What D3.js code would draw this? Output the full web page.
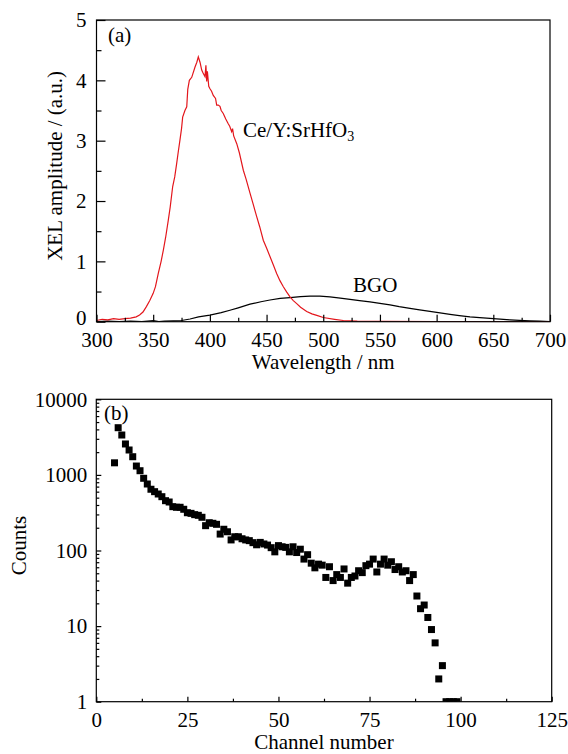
<!DOCTYPE html>
<html lang="en">
<head>
  <meta charset="UTF-8" />
  <title>XEL spectra and pulse height spectrum</title>
  <script src="https://d3js.org/d3.v7.min.js"></script>
  <style>
    body {
      margin: 0;
      background: #fff;
    }
    svg {
      display: block;
    }
  </style>
</head>
<body>
  <div id="chart"></div>

  <script>
    // (a) XEL spectra
    const ceWavelength = [300, 305, 310, 315, 320, 325, 330, 335, 338, 341, 344, 347, 350, 352, 354.5, 357, 359, 361, 363.3, 365,
      367.2, 369, 370.7, 372, 373.6, 375, 376, 378, 379.6, 380.5, 381.9, 384, 386.9, 388.5, 389.8, 391.3, 392.8, 394, 395.7, 396.5,
      397.2, 397.8, 399, 400.1, 401.5, 403, 405, 406, 407.4, 408.9, 410, 411.8, 413, 414, 416.2, 417.5, 419.2, 420, 421, 423.7,
      426, 429.5, 432, 435.4, 438, 441.3, 444, 447.1, 450, 453, 456, 458.9, 461.8, 464.8, 467.8, 470.7, 473.6, 476.6, 480, 485.4,
      490, 495, 500, 510, 517.7, 530, 550, 600, 650, 700];
    const ceAmplitude = [0.02, 0.04, 0.03, 0.05, 0.04, 0.05, 0.06, 0.08, 0.11, 0.16, 0.25, 0.35, 0.47, 0.58, 0.80, 1.00, 1.19, 1.40, 1.68, 1.90,
      2.24, 2.40, 2.62, 2.80, 3.01, 3.20, 3.39, 3.50, 3.56, 3.85, 4.00, 4.05, 4.22, 4.30, 4.39, 4.30, 4.17, 4.12, 4.06, 4.25,
      3.98, 4.15, 3.90, 3.86, 3.82, 3.75, 3.70, 3.59, 3.59, 3.57, 3.50, 3.45, 3.40, 3.36, 3.28, 3.24, 3.15, 3.20, 3.08, 2.95,
      2.80, 2.51, 2.36, 2.13, 1.96, 1.74, 1.57, 1.35, 1.22, 1.08, 0.94, 0.80, 0.68, 0.58, 0.49, 0.41, 0.35, 0.30, 0.24, 0.17,
      0.13, 0.10, 0.07, 0.04, 0.02, 0.01, 0.005, 0, 0, 0];

    const bgoWavelength = [300, 310, 320, 330, 340, 350, 355, 360, 367.7, 375, 382.5, 390, 400, 410, 417.7, 425, 435.4, 445, 453, 462,
      470.7, 480, 488.3, 497, 505.9, 515, 523.6, 532, 541.2, 550, 558.9, 567, 576.5, 585, 594.1, 603, 611.8, 620, 629.4, 638,
      647.1, 656, 664.7, 673, 682.4, 691, 700];
    const bgoAmplitude = [0, 0.01, 0, 0.01, 0, 0.02, 0, 0.01, 0.015, 0.02, 0.045, 0.08, 0.11, 0.15, 0.19, 0.23, 0.29, 0.33, 0.36, 0.385,
      0.40, 0.415, 0.425, 0.425, 0.41, 0.39, 0.37, 0.35, 0.33, 0.305, 0.28, 0.25, 0.22, 0.195, 0.17, 0.145, 0.12, 0.10, 0.08, 0.067,
      0.055, 0.042, 0.03, 0.022, 0.015, 0.008, 0];

    const xTicksA = [300, 350, 400, 450, 500, 550, 600, 650, 700];
    const yTicksA = [0, 1, 2, 3, 4, 5];

    // (b) pulse height spectrum, channels 5..99
    const channels = d3.range(5, 100);
    const counts = [1445, 4210, 3370, 2565, 2135, 1740, 1310, 1136, 902, 758,
      646, 600, 559, 515, 456, 438, 380, 373, 373, 351,
      316, 310, 298, 292, 275, 213, 233, 229, 222, 165,
      191, 177, 138, 152, 152, 143, 138, 135, 127, 119,
      128, 122, 118, 109, 96, 116, 112, 110, 96, 112,
      94, 104, 77, 88, 68, 59, 66, 64, 44, 61,
      40, 48, 44, 57, 37, 44, 46, 54, 51, 63,
      66, 77, 52, 66, 77, 64, 71, 56, 61, 52,
      54, 40, 48, 25, 17, 19, 13, 9, 6, 2,
      3, 1, 1, 1, 1];

    const xTicksB = [0, 25, 50, 75, 100, 125];
    const yTicksB = [1, 10, 100, 1000, 10000];

    const serif = "'Liberation Serif', 'Times New Roman', serif";
    const fontSize = 21;

    const width = 568, height = 754;
    const svg = d3.select("#chart").append("svg")
      .attr("width", width)
      .attr("height", height)
      .attr("font-family", serif);

    svg.append("rect").attr("width", width).attr("height", height).attr("fill", "#fff");
    const defs = svg.append("defs");

    // strip the domain and restyle the tick labels of a d3 axis
    function styleAxis(g) {
      g.select(".domain").remove();
      g.attr("font-family", serif).attr("font-size", fontSize);
      g.selectAll(".tick text").attr("fill", "#000");
      g.selectAll(".tick line").attr("stroke", "#000").attr("stroke-width", 1.2);
    }

    // ---------- panel (a) ----------
    const a = { left: 96.5, right: 550, top: 20, bottom: 321.7 };
    const xA = d3.scaleLinear().domain([300, 700]).range([a.left, a.right]);
    const yA = d3.scaleLinear().domain([0, 5]).range([a.bottom, a.top]);

    defs.append("clipPath").attr("id", "clipA")
      .append("rect").attr("x", a.left).attr("y", a.top)
      .attr("width", a.right - a.left).attr("height", a.bottom - a.top);

    const lineA = d3.line().x(d => xA(d[0])).y(d => yA(d[1]));

    svg.append("path")
      .datum(d3.zip(bgoWavelength, bgoAmplitude))
      .attr("clip-path", "url(#clipA)")
      .attr("fill", "none").attr("stroke", "#000").attr("stroke-width", 1.2)
      .attr("d", lineA);

    svg.append("path")
      .datum(d3.zip(ceWavelength, ceAmplitude))
      .attr("clip-path", "url(#clipA)")
      .attr("fill", "none").attr("stroke", "#e3161c").attr("stroke-width", 1.2)
      .attr("d", lineA);

    // minor ticks
    svg.append("g").attr("transform", `translate(0,${a.bottom})`)
      .call(d3.axisBottom(xA).tickValues(d3.range(325, 700, 50)).tickSize(-4).tickFormat(""))
      .call(styleAxis);
    svg.append("g").attr("transform", `translate(${a.left},0)`)
      .call(d3.axisLeft(yA).tickValues(d3.range(0.5, 5, 1)).tickSize(-5).tickFormat(""))
      .call(styleAxis);

    // major ticks
    svg.append("g").attr("transform", `translate(0,${a.bottom})`)
      .call(d3.axisBottom(xA).tickValues(xTicksA).tickSize(-7).tickPadding(10).tickFormat(d3.format("d")))
      .call(styleAxis);
    svg.append("g").attr("transform", `translate(${a.left},0)`)
      .call(d3.axisLeft(yA).tickValues(yTicksA).tickSize(-9).tickPadding(10).tickFormat(d3.format("d")))
      .call(styleAxis)
      .call(g => g.selectAll(".tick text").filter(d => d === 0).attr("y", -4));

    svg.append("rect")
      .attr("x", a.left).attr("y", a.top)
      .attr("width", a.right - a.left).attr("height", a.bottom - a.top)
      .attr("fill", "none").attr("stroke", "#000").attr("stroke-width", 1.2);

    svg.append("text").attr("x", (a.left + a.right) / 2).attr("y", 369)
      .attr("text-anchor", "middle").attr("font-size", fontSize).text("Wavelength / nm");
    svg.append("text")
      .attr("transform", `translate(62,${(a.top + a.bottom) / 2 - 5}) rotate(-90)`)
      .attr("text-anchor", "middle").attr("font-size", fontSize).text("XEL amplitude / (a.u.)");

    svg.append("text").attr("x", 108).attr("y", 42).attr("font-size", fontSize).text("(a)");

    const ceLabel = svg.append("text").attr("x", 243).attr("y", 137).attr("font-size", fontSize);
    ceLabel.append("tspan").text("Ce/Y:SrHfO");
    ceLabel.append("tspan").attr("font-size", 14).attr("dy", 4).text("3");

    svg.append("text").attr("x", 353).attr("y", 292).attr("font-size", fontSize).text("BGO");

    // ---------- panel (b) ----------
    const b = { left: 96.3, right: 551.7, top: 399.3, bottom: 701.7 };
    const xB = d3.scaleLinear().domain([0, 125]).range([b.left, b.right]);
    const yB = d3.scaleLog().domain([1, 10000]).range([b.bottom, b.top]);

    defs.append("clipPath").attr("id", "clipB")
      .append("rect").attr("x", b.left).attr("y", b.top)
      .attr("width", b.right - b.left).attr("height", b.bottom - b.top);

    const sq = 7;
    svg.append("g").attr("clip-path", "url(#clipB)")
      .selectAll("rect")
      .data(d3.zip(channels, counts))
      .join("rect")
      .attr("x", d => xB(d[0]) - sq / 2)
      .attr("y", d => yB(d[1]) - sq / 2)
      .attr("width", sq).attr("height", sq)
      .attr("fill", "#000");

    const minorLog = [];
    [1, 10, 100, 1000].forEach(dec => d3.range(2, 10).forEach(m => minorLog.push(dec * m)));

    svg.append("g").attr("transform", `translate(0,${b.bottom})`)
      .call(d3.axisBottom(xB).tickValues(d3.range(12.5, 125, 25)).tickSize(-3).tickFormat(""))
      .call(styleAxis);
    svg.append("g").attr("transform", `translate(${b.left},0)`)
      .call(d3.axisLeft(yB).tickValues(minorLog).tickSize(-3).tickFormat(""))
      .call(styleAxis);

    svg.append("g").attr("transform", `translate(0,${b.bottom})`)
      .call(d3.axisBottom(xB).tickValues(xTicksB).tickSize(-5).tickPadding(10).tickFormat(d3.format("d")))
      .call(styleAxis);
    svg.append("g").attr("transform", `translate(${b.left},0)`)
      .call(d3.axisLeft(yB).tickValues(yTicksB).tickSize(-5).tickPadding(9).tickFormat(d3.format("d")))
      .call(styleAxis);

    svg.append("rect")
      .attr("x", b.left).attr("y", b.top)
      .attr("width", b.right - b.left).attr("height", b.bottom - b.top)
      .attr("fill", "none").attr("stroke", "#000").attr("stroke-width", 1.2);

    svg.append("text").attr("x", (b.left + b.right) / 2).attr("y", 749)
      .attr("text-anchor", "middle").attr("font-size", fontSize).text("Channel number");
    svg.append("text")
      .attr("transform", `translate(26,${(b.top + b.bottom) / 2 - 5}) rotate(-90)`)
      .attr("text-anchor", "middle").attr("font-size", fontSize).text("Counts");

    svg.append("text").attr("x", 104).attr("y", 420).attr("font-size", fontSize).text("(b)");
  </script>
</body>
</html>
